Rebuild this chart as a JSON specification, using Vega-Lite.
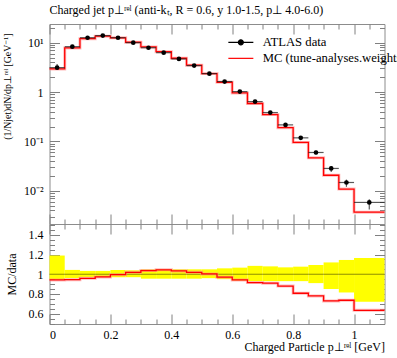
{
  "$schema": "https://vega.github.io/schema/vega-lite/v6.json",
  "autosize": {"type": "none"},
  "padding": {"left": 49.5, "top": 24, "right": 347.5, "bottom": 334},
  "bounds": "flush",
  "spacing": 0,
  "config": {
    "font": "Liberation Serif",
    "view": {"stroke": "#8c8c8c", "strokeWidth": 1},
    "axis": {"domain": false, "grid": false, "ticks": true, "tickColor": "#808080", "tickWidth": 1, "tickOpacity": 1, "labelColor": "black", "labelFontSize": 12, "titleFontSize": 12, "titleFontWeight": "normal", "labelFont": "Liberation Serif", "titleFont": "Liberation Serif", "titleColor": "black"},
    "legend": {"labelFont": "Liberation Serif", "labelFontSize": 12.7, "labelColor": "black", "labelLimit": 400}
  },
  "resolve": {"scale": {"x": "independent", "y": "independent"}},
  "datasets": {
    "bins": [
      {"xlo": 0.0, "xhi": 0.05, "xc": 0.025, "d": 3.12, "dlo": 2.95, "dhi": 3.71, "mc": 2.94, "r": 0.942, "blo": 0.945, "bhi": 1.19},
      {"xlo": 0.05, "xhi": 0.1, "xc": 0.075, "d": 8.3, "dlo": 7.97, "dhi": 8.67, "mc": 7.84, "r": 0.945, "blo": 0.96, "bhi": 1.044},
      {"xlo": 0.1, "xhi": 0.15, "xc": 0.125, "d": 12.6, "dlo": 12.22, "dhi": 13.03, "mc": 12.08, "r": 0.959, "blo": 0.97, "bhi": 1.034},
      {"xlo": 0.15, "xhi": 0.2, "xc": 0.175, "d": 13.9, "dlo": 13.48, "dhi": 14.37, "mc": 13.52, "r": 0.973, "blo": 0.97, "bhi": 1.034},
      {"xlo": 0.2, "xhi": 0.25, "xc": 0.225, "d": 12.6, "dlo": 12.22, "dhi": 13.15, "mc": 12.55, "r": 0.996, "blo": 0.97, "bhi": 1.044},
      {"xlo": 0.25, "xhi": 0.3, "xc": 0.275, "d": 10.0, "dlo": 9.7, "dhi": 10.4, "mc": 10.2, "r": 1.02, "blo": 0.97, "bhi": 1.04},
      {"xlo": 0.3, "xhi": 0.35, "xc": 0.325, "d": 7.9, "dlo": 7.54, "dhi": 8.3, "mc": 8.19, "r": 1.037, "blo": 0.955, "bhi": 1.05},
      {"xlo": 0.35, "xhi": 0.4, "xc": 0.375, "d": 6.28, "dlo": 6.0, "dhi": 6.59, "mc": 6.56, "r": 1.045, "blo": 0.955, "bhi": 1.05},
      {"xlo": 0.4, "xhi": 0.45, "xc": 0.425, "d": 4.68, "dlo": 4.47, "dhi": 4.91, "mc": 4.84, "r": 1.034, "blo": 0.955, "bhi": 1.05},
      {"xlo": 0.45, "xhi": 0.5, "xc": 0.475, "d": 3.43, "dlo": 3.28, "dhi": 3.6, "mc": 3.5, "r": 1.02, "blo": 0.955, "bhi": 1.05},
      {"xlo": 0.5, "xhi": 0.55, "xc": 0.525, "d": 2.36, "dlo": 2.27, "dhi": 2.48, "mc": 2.37, "r": 1.003, "blo": 0.96, "bhi": 1.05},
      {"xlo": 0.55, "xhi": 0.6, "xc": 0.575, "d": 1.63, "dlo": 1.55, "dhi": 1.73, "mc": 1.58, "r": 0.97, "blo": 0.95, "bhi": 1.06},
      {"xlo": 0.6, "xhi": 0.65, "xc": 0.625, "d": 1.02, "dlo": 0.954, "dhi": 1.088, "mc": 0.961, "r": 0.942, "blo": 0.935, "bhi": 1.067},
      {"xlo": 0.65, "xhi": 0.7, "xc": 0.675, "d": 0.64, "dlo": 0.595, "dhi": 0.694, "mc": 0.586, "r": 0.915, "blo": 0.93, "bhi": 1.085},
      {"xlo": 0.7, "xhi": 0.75, "xc": 0.725, "d": 0.384, "dlo": 0.357, "dhi": 0.415, "mc": 0.349, "r": 0.909, "blo": 0.93, "bhi": 1.08},
      {"xlo": 0.75, "xhi": 0.8, "xc": 0.775, "d": 0.216, "dlo": 0.201, "dhi": 0.231, "mc": 0.19, "r": 0.88, "blo": 0.93, "bhi": 1.07},
      {"xlo": 0.8, "xhi": 0.85, "xc": 0.825, "d": 0.118, "dlo": 0.11, "dhi": 0.127, "mc": 0.0952, "r": 0.807, "blo": 0.93, "bhi": 1.077},
      {"xlo": 0.85, "xhi": 0.9, "xc": 0.875, "d": 0.0596, "dlo": 0.0542, "dhi": 0.0652, "mc": 0.0465, "r": 0.78, "blo": 0.91, "bhi": 1.094},
      {"xlo": 0.9, "xhi": 0.95, "xc": 0.925, "d": 0.0283, "dlo": 0.0241, "dhi": 0.0317, "mc": 0.0206, "r": 0.729, "blo": 0.85, "bhi": 1.12},
      {"xlo": 0.95, "xhi": 1.0, "xc": 0.975, "d": 0.0147, "dlo": 0.012, "dhi": 0.0168, "mc": 0.0108, "r": 0.736, "blo": 0.815, "bhi": 1.145},
      {"xlo": 1.0, "xhi": 1.1, "xc": 1.05, "d": 0.0058, "dlo": 0.00418, "dhi": 0.00676, "mc": 0.00368, "r": 0.634, "blo": 0.72, "bhi": 1.165}
    ],
    "legendrows": [
      {"series": "ATLAS data"},
      {"series": "MC (tune-analyses.weights)"}
    ]
  },
  "vconcat": [
    {
      "width": 335,
      "height": 200,
      "title": {"text": "Charged jet p⊥ʳᵉˡ (anti-kₜ, R = 0.6, y 1.0-1.5, p⊥ 4.0-6.0)", "anchor": "start", "frame": "group", "fontSize": 12, "fontWeight": "normal", "font": "Liberation Serif", "color": "black", "offset": 7},
      "resolve": {"axis": {"x": "independent", "y": "independent"}},
      "layer": [
        {
          "data": {"name": "bins"},
          "transform": [{"fold": ["xlo", "xhi"], "as": ["edge", "xv"]}],
          "mark": {"type": "line", "color": "#ff9090", "strokeWidth": 3, "opacity": 0.6},
          "encoding": {
            "x": {"field": "xv", "type": "quantitative", "scale": {"domain": [0, 1.1], "nice": false, "zero": false},
              "axis": {"orient": "bottom", "title": null, "labels": false, "ticks": true, "tickColor": "#808080", "values": [0,0.2,0.4,0.6,0.8,1], "tickSize": -10}},
            "y": {"field": "mc", "type": "quantitative", "scale": {"type": "log", "domain": [0.00212, 23.9], "nice": false},
              "axis": {"orient": "left", "title": "(1/Njet)dN/dp⊥ʳᵉˡ [GeV⁻¹]", "titleFontSize": 9.8, "titleAnchor": "end", "titleX": -39.5, "titleY": 9, "titleBaseline": "alphabetic",
                "values": [0.01, 0.1, 1, 10], "ticks": true, "tickColor": "#808080",
                "labelExpr": "datum.value==10?'10¹':datum.value==1?'1':datum.value==0.1?'10⁻¹':datum.value==0.01?'10⁻²':''",
                "labelPadding": 16.5, "labelBaseline": "middle", "tickSize": -10}},
            "order": [{"field": "xv", "type": "quantitative"}, {"field": "xlo", "type": "quantitative"}]
          }
        },
        {
          "data": {"name": "bins"},
          "transform": [{"fold": ["xlo", "xhi"], "as": ["edge", "xv"]}],
          "mark": {"type": "line", "color": "#ff0000", "strokeWidth": 1.3},
          "encoding": {
            "x": {"field": "xv", "type": "quantitative",
              "axis": {"orient": "top", "title": null, "labels": false, "ticks": true, "tickColor": "#808080", "values": [0,0.2,0.4,0.6,0.8,1], "tickSize": -10}},
            "y": {"field": "mc", "type": "quantitative",
              "axis": {"orient": "right", "title": null, "labels": false, "ticks": true, "tickColor": "#808080", "values": [0.01, 0.1, 1, 10], "tickSize": -10}},
            "order": [{"field": "xv", "type": "quantitative"}, {"field": "xlo", "type": "quantitative"}]
          }
        },
        {
          "data": {"name": "bins"},
          "mark": {"type": "rule", "color": "#222222", "strokeWidth": 1.2, "opacity": 0.75},
          "encoding": {
            "x": {"field": "xc", "type": "quantitative",
              "axis": {"orient": "bottom", "title": null, "labels": false, "ticks": true, "tickColor": "#808080", "values": [0.05,0.1,0.15,0.25,0.3,0.35,0.45,0.5,0.55,0.65,0.7,0.75,0.85,0.9,0.95,1.05], "tickSize": -5}},
            "y": {"field": "dlo", "type": "quantitative",
              "axis": {"orient": "left", "title": null, "labels": false, "ticks": true, "tickColor": "#808080", "values": [0.003,0.004,0.005,0.006,0.007,0.008,0.009,0.02,0.03,0.04,0.05,0.06,0.07,0.08,0.09,0.2,0.3,0.4,0.5,0.6,0.7,0.8,0.9,2,3,4,5,6,7,8,9,20], "tickSize": -5}},
            "y2": {"field": "dhi"}
          }
        },
        {
          "data": {"name": "bins"},
          "mark": {"type": "rule", "color": "#222222", "strokeWidth": 1.2, "opacity": 0.75},
          "encoding": {
            "x": {"field": "xlo", "type": "quantitative",
              "axis": {"orient": "top", "title": null, "labels": false, "ticks": true, "tickColor": "#808080", "values": [0.05,0.1,0.15,0.25,0.3,0.35,0.45,0.5,0.55,0.65,0.7,0.75,0.85,0.9,0.95,1.05], "tickSize": -5}},
            "x2": {"field": "xhi"},
            "y": {"field": "d", "type": "quantitative",
              "axis": {"orient": "right", "title": null, "labels": false, "ticks": true, "tickColor": "#808080", "values": [0.003,0.004,0.005,0.006,0.007,0.008,0.009,0.02,0.03,0.04,0.05,0.06,0.07,0.08,0.09,0.2,0.3,0.4,0.5,0.6,0.7,0.8,0.9,2,3,4,5,6,7,8,9,20], "tickSize": -5}}
          }
        },
        {
          "data": {"name": "bins"},
          "mark": {"type": "point", "filled": true, "color": "black", "size": 22, "opacity": 1},
          "encoding": {
            "x": {"field": "xc", "type": "quantitative", "axis": null},
            "y": {"field": "d", "type": "quantitative", "axis": null}
          }
        },
        {
          "data": {"name": "legendrows"},
          "mark": {"type": "point", "filled": true, "opacity": 1, "strokeWidth": 1.2},
          "encoding": {
            "x": {"field": "nx", "type": "quantitative", "axis": null},
            "y": {"field": "ny", "type": "quantitative", "axis": null},
            "fill": {"field": "series", "type": "nominal", "scale": {"domain": ["ATLAS data", "MC (tune-analyses.weights)"], "range": ["black", "#ff0000"]},
              "legend": {"title": null, "orient": "none", "legendX": 185, "legendY": 12, "symbolSize": 100, "labelOffset": 15.5, "rowPadding": 2, "symbolStrokeWidth": 1.2}},
            "stroke": {"field": "series", "type": "nominal", "scale": {"domain": ["ATLAS data", "MC (tune-analyses.weights)"], "range": ["black", "#ff0000"]},
              "legend": {"title": null, "orient": "none", "legendX": 185, "legendY": 12, "symbolSize": 100, "labelOffset": 15.5, "rowPadding": 2, "symbolStrokeWidth": 1.2}},
            "shape": {"field": "series", "type": "nominal", "scale": {"domain": ["ATLAS data", "MC (tune-analyses.weights)"], "range": ["M-2.5,0H2.5M0.5,0A0.5,0.5,0,1,1,-0.5,0A0.5,0.5,0,1,1,0.5,0Z", "M-2.5,0H2.5"]},
              "legend": {"title": null, "orient": "none", "legendX": 185, "legendY": 12, "symbolSize": 100, "labelOffset": 15.5, "rowPadding": 2, "symbolStrokeWidth": 1.2}}
          }
        }
      ]
    },
    {
      "width": 335,
      "height": 100,
      "resolve": {"axis": {"x": "independent", "y": "independent"}},
      "layer": [
        {
          "data": {"name": "bins"},
          "mark": {"type": "rect", "color": "#ffff00"},
          "encoding": {
            "x": {"field": "xlo", "type": "quantitative", "scale": {"domain": [0, 1.1], "nice": false, "zero": false},
              "axis": {"orient": "bottom", "title": "Charged Particle p⊥ʳᵉˡ [GeV]", "titleAnchor": "end", "titleY": 26.5, "titleBaseline": "alphabetic",
                "values": [0,0.2,0.4,0.6,0.8,1], "labelExpr": "format(datum.value, '~g')", "labelPadding": 15, "ticks": true, "tickColor": "#808080", "tickSize": -10}},
            "x2": {"field": "xhi"},
            "y": {"field": "blo", "type": "quantitative", "scale": {"domain": [0.495, 1.51], "nice": false, "zero": false},
              "axis": {"orient": "left", "title": "MC/data", "titleX": -34, "titleBaseline": "alphabetic",
                "values": [0.6,0.8,1,1.2,1.4], "labelExpr": "format(datum.value, '~g')", "labelPadding": 16.5, "labelBaseline": "middle", "ticks": true, "tickColor": "#808080", "tickSize": -10}},
            "y2": {"field": "bhi"}
          }
        },
        {
          "data": {"name": "bins"},
          "transform": [{"fold": ["xlo", "xhi"], "as": ["edge", "xv"]}],
          "mark": {"type": "line", "color": "black", "opacity": 0.45, "strokeWidth": 1},
          "encoding": {
            "x": {"field": "xv", "type": "quantitative",
              "axis": {"orient": "top", "title": null, "labels": false, "ticks": true, "tickColor": "#808080", "values": [0.05,0.1,0.15,0.25,0.3,0.35,0.45,0.5,0.55,0.65,0.7,0.75,0.85,0.9,0.95,1.05], "tickSize": -5}},
            "y": {"datum": 1, "type": "quantitative",
              "axis": {"orient": "right", "title": null, "labels": false, "ticks": true, "tickColor": "#808080", "values": [0.5,0.55,0.65,0.7,0.75,0.85,0.9,0.95,1.05,1.1,1.15,1.25,1.3,1.35,1.45,1.5], "tickSize": -5}},
            "order": [{"field": "xv", "type": "quantitative"}, {"field": "xlo", "type": "quantitative"}]
          }
        },
        {
          "data": {"name": "bins"},
          "transform": [{"fold": ["xlo", "xhi"], "as": ["edge", "xv"]}],
          "mark": {"type": "line", "color": "#ff9090", "strokeWidth": 3, "opacity": 0.6},
          "encoding": {
            "x": {"field": "xv", "type": "quantitative",
              "axis": {"orient": "bottom", "title": null, "labels": false, "ticks": true, "tickColor": "#808080", "values": [0.05,0.1,0.15,0.25,0.3,0.35,0.45,0.5,0.55,0.65,0.7,0.75,0.85,0.9,0.95,1.05], "tickSize": -5}},
            "y": {"field": "r", "type": "quantitative",
              "axis": {"orient": "left", "title": null, "labels": false, "ticks": true, "tickColor": "#808080", "values": [0.5,0.55,0.65,0.7,0.75,0.85,0.9,0.95,1.05,1.1,1.15,1.25,1.3,1.35,1.45,1.5], "tickSize": -5}},
            "order": [{"field": "xv", "type": "quantitative"}, {"field": "xlo", "type": "quantitative"}]
          }
        },
        {
          "data": {"name": "bins"},
          "transform": [{"fold": ["xlo", "xhi"], "as": ["edge", "xv"]}],
          "mark": {"type": "line", "color": "#ff0000", "strokeWidth": 1.3},
          "encoding": {
            "x": {"field": "xv", "type": "quantitative",
              "axis": {"orient": "top", "title": null, "labels": false, "ticks": true, "tickColor": "#808080", "values": [0,0.2,0.4,0.6,0.8,1], "tickSize": -10}},
            "y": {"field": "r", "type": "quantitative",
              "axis": {"orient": "right", "title": null, "labels": false, "ticks": true, "tickColor": "#808080", "values": [0.6,0.8,1,1.2,1.4], "tickSize": -10}},
            "order": [{"field": "xv", "type": "quantitative"}, {"field": "xlo", "type": "quantitative"}]
          }
        }
      ]
    }
  ]
}
